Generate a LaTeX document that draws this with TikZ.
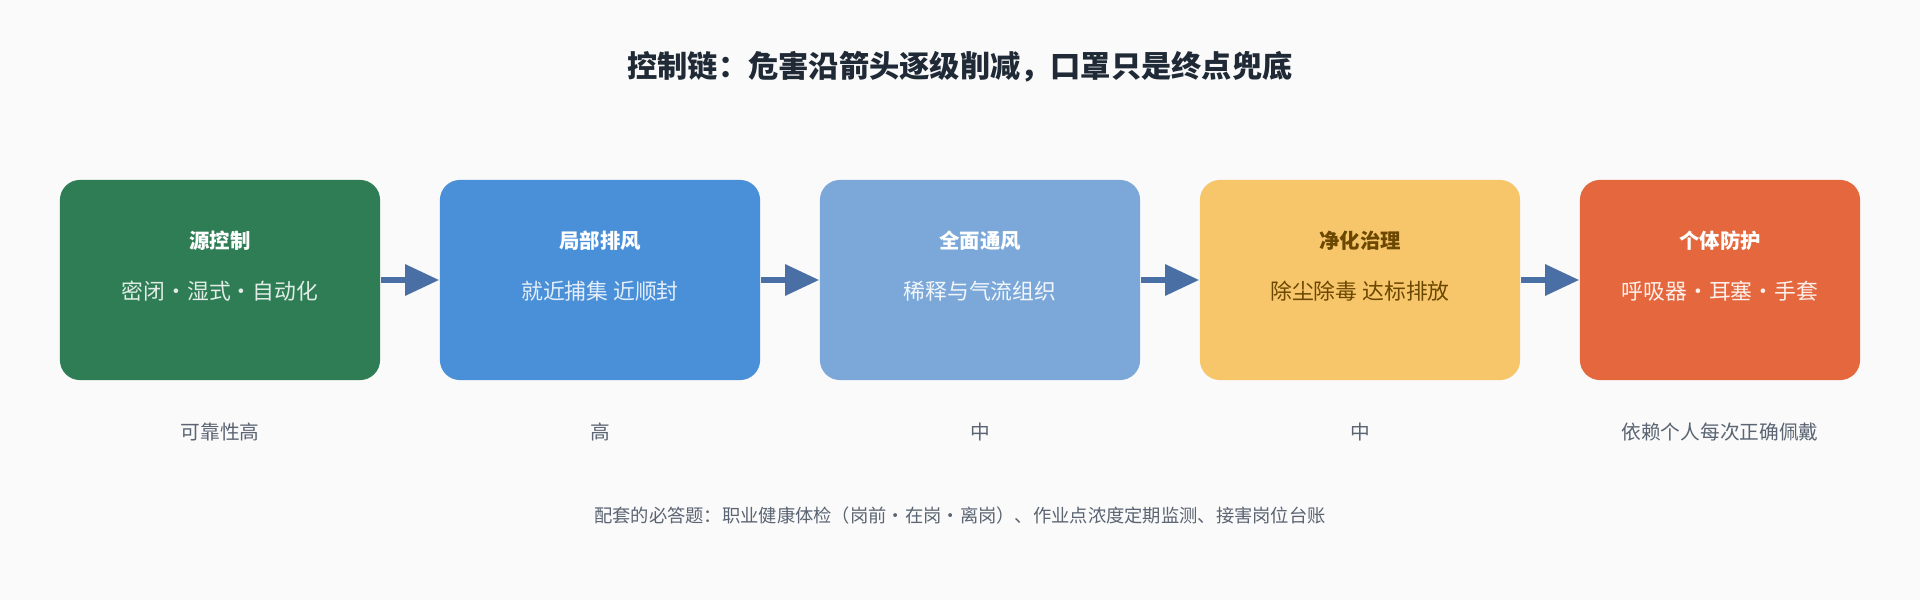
\documentclass[tikz,border=0pt]{standalone}
\usepackage{fontspec}
\setmainfont{Noto Sans CJK SC}
\usetikzlibrary{arrows.meta,positioning}
\definecolor{bgc}{HTML}{FAFAFA}
\definecolor{txt}{HTML}{1F2A36}
\definecolor{grey}{HTML}{5A6472}
\definecolor{arr}{HTML}{4A6FA5}
\definecolor{cA}{HTML}{2E7D55}
\definecolor{cB}{HTML}{4A90D9}
\definecolor{cC}{HTML}{7BA8D8}
\definecolor{cD}{HTML}{F7C66B}
\definecolor{cE}{HTML}{E5673D}
\definecolor{brown}{HTML}{6B4700}
\tikzset{
  stage/.style={rounded corners=0.2cm, minimum height=2cm, inner sep=0pt},
  head/.style={font=\fontsize{5.8}{7}\selectfont\bfseries},
  body/.style={font=\fontsize{6.2}{7}\selectfont},
  level/.style={text=grey, font=\fontsize{5.6}{7}\selectfont},
  link/.style={arr, line width=0.06cm, -{Triangle[length=0.34cm,width=0.3cm]}}
}
\begin{document}
\begin{tikzpicture}[x=0.01cm,y=-0.01cm]
\fill[bgc] (0,0) rectangle (1920,600);
\node[text=txt, font=\fontsize{8.6}{10}\selectfont\bfseries] (title) at (960,67) {控制链：危害沿箭头逐级削减，口罩只是终点兜底};
% stages
\node[stage, fill=cA, minimum width=3.2cm] (s1) at (220,280) {};
\node[stage, fill=cB, minimum width=3.2cm] (s2) at (600,280) {};
\node[stage, fill=cC, minimum width=3.2cm] (s3) at (980,280) {};
\node[stage, fill=cD, minimum width=3.2cm] (s4) at (1360,280) {};
\node[stage, fill=cE, minimum width=2.8cm] (s5) at (1720,280) {};
\node[head, text=white] at (220,241) {源控制};
\node[body, text=white!85!cA] at (220,291) {密闭·湿式·自动化};
\node[head, text=white] at (600,241) {局部排风};
\node[body, text=white!85!cB] at (600,291) {就近捕集 近顺封};
\node[head, text=white] at (980,241) {全面通风};
\node[body, text=white!90!cC] at (980,291) {稀释与气流组织};
\node[head, text=brown] at (1360,241) {净化治理};
\node[body, text=brown] at (1360,291) {除尘除毒 达标排放};
\node[head, text=white] at (1720,241) {个体防护};
\node[body, text=white!90!cE] at (1720,291) {呼吸器·耳塞·手套};
\foreach \a/\b in {s1/s2,s2/s3,s3/s4,s4/s5}
  \draw[link] (\a.east) -- (\b.west);
% reliability
\node[level] (r1) at (220,432) {可靠性高};
\node[level] (r2) at (600,432) {高};
\node[level] (r3) at (980,432) {中};
\node[level] (r4) at (1360,432) {中};
\node[level] (r5) at (1720,432) {依赖个人每次正确佩戴};
\node[text=grey, font=\fontsize{5.2}{7}\selectfont] (note) at (960,516) {配套的必答题：职业健康体检（岗前·在岗·离岗）、作业点浓度定期监测、接害岗位台账};
\end{tikzpicture}
\end{document}
